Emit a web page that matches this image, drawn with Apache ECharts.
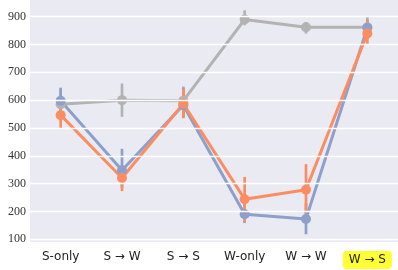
<!DOCTYPE html>
<html><head><meta charset="utf-8">
<script src="https://cdn.jsdelivr.net/npm/echarts@6/dist/echarts.min.js"></script>
<style>html,body{margin:0;padding:0;background:#fff}#c{width:398px;height:270px}</style>
</head><body><div id="c"></div>
<script>
const categories = ['S-only', 'S \u2192 W', 'S \u2192 S', 'W-only', 'W \u2192 W', 'W \u2192 S'];
const grayMean = [585, 600, 598, 890, 862, 862];
const grayLow  = [533, 540, 537, 869, 839, 845];
const grayHigh = [641, 660, 649, 923, 881, 899];
const blueMean = [598, 348, 582, 190, 173, 860];
const blueLow  = [540, 284, 540, 158, 118, 820];
const blueHigh = [645, 425, 645, 230, 230, 890];
const orangeMean = [546, 320, 587, 244, 278, 840];
const orangeLow  = [500, 273, 535, 161, 175, 800];
const orangeHigh = [598, 363, 641, 324, 370, 887];
const yTicks = [100, 200, 300, 400, 500, 600, 700, 800, 900];

const colors = {gray: '#b3b3b3', blue: '#8da0cb', orange: '#fc8d62'};

function errSeries(low, high, color) {
  return {
    type: 'custom', z: 3,
    data: categories.map((c, i) => [i, low[i], high[i]]),
    renderItem: function (params, api) {
      const p1 = api.coord([api.value(0), api.value(1)]);
      const p2 = api.coord([api.value(0), api.value(2)]);
      return {type: 'line', shape: {x1: p1[0], y1: p1[1], x2: p2[0], y2: p2[1]},
        style: {stroke: color, lineWidth: 2.7}};
    }
  };
}
function lineSeries(vals, color) {
  return {
    type: 'line', data: vals, z: 4,
    symbol: 'circle', symbolSize: 10,
    lineStyle: {color: color, width: 3},
    itemStyle: {color: color},
    emphasis: {disabled: true}
  };
}
const gridLines = {
  type: 'line', data: [], z: 1, silent: true,
  markLine: {
    silent: true, symbol: 'none', animation: false, label: {show: false},
    lineStyle: {color: '#ffffff', width: 1.3, type: 'solid'},
    data: yTicks.map(v => ({yAxis: v}))
  }
};
const chart = echarts.init(document.getElementById('c'), null, {renderer: 'canvas'});
chart.setOption({
  animation: false,
  grid: {left: 30, right: 0, top: 0, bottom: 28, show: true, backgroundColor: '#eaeaf2', borderWidth: 0},
  xAxis: {
    type: 'category', data: categories, boundaryGap: true,
    axisLine: {show: false}, axisTick: {show: false},
    axisLabel: {
      interval: 0, margin: 9, color: '#222', fontFamily: 'DejaVu Sans', fontSize: 12,
      formatter: v => v === 'W \u2192 S' ? '{hl|' + v + '}' : v,
      rich: {hl: {backgroundColor: '#ffff33', borderRadius: 4, padding: [3, 6, 3, 6], color: '#222', fontFamily: 'DejaVu Sans', fontSize: 12}}
    }
  },
  yAxis: {
    type: 'value', min: 90, max: 960, interval: 10,
    axisLine: {show: false}, axisTick: {show: false},
    axisLabel: {
      margin: 4, color: '#333', fontFamily: 'Liberation Serif', fontSize: 12,
      formatter: v => yTicks.indexOf(v) >= 0 ? String(v) : ''
    },
    splitLine: {show: false}
  },
  series: [
    gridLines,
    errSeries(grayLow, grayHigh, colors.gray), lineSeries(grayMean, colors.gray),
    errSeries(blueLow, blueHigh, colors.blue), lineSeries(blueMean, colors.blue),
    errSeries(orangeLow, orangeHigh, colors.orange), lineSeries(orangeMean, colors.orange)
  ]
});
</script></body></html>
